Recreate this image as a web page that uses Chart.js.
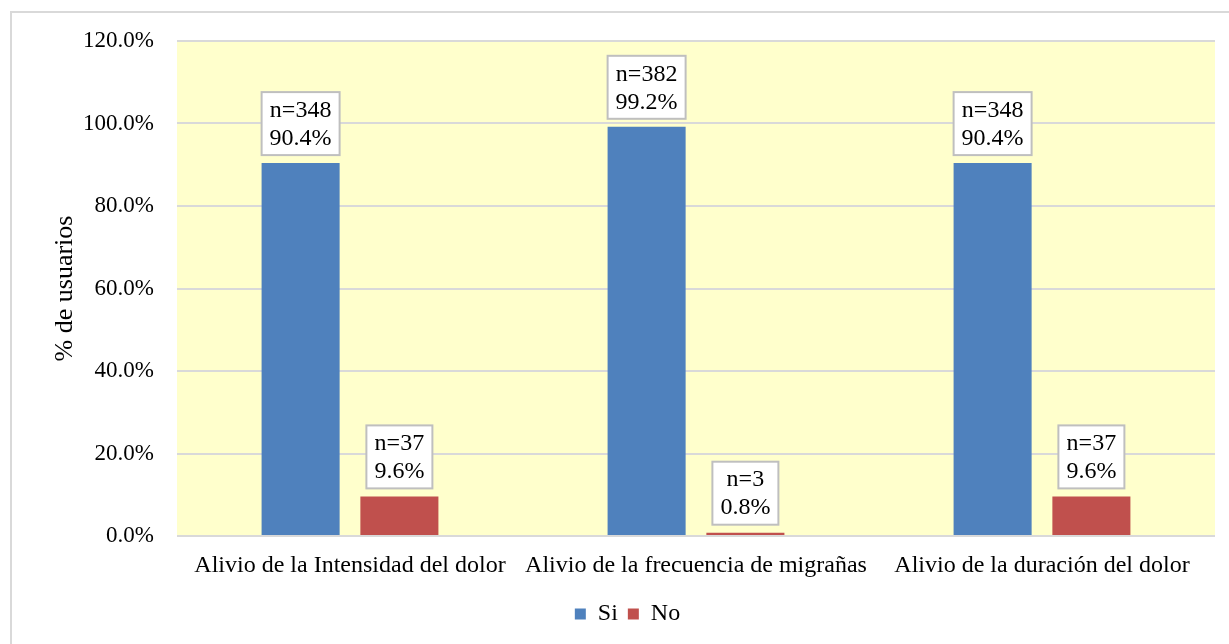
<!DOCTYPE html>
<html lang="es">
<head>
    <meta charset="UTF-8">
    <title>Alivio del dolor - % de usuarios</title>
    <script src="https://cdn.jsdelivr.net/npm/chart.js@4.4.0/dist/chart.umd.min.js"></script>
    <style>
        body {
            margin: 0;
            padding: 0;
            background: #ffffff;
        }
        .chart-wrapper {
            position: relative;
            width: 1229px;
            height: 644px;
        }
    </style>
</head>
<body>
    <div class="chart-wrapper">
        <canvas id="reliefChart"></canvas>
    </div>

    <script>
        // Data
        const categories = [
            'Alivio de la Intensidad del dolor',
            'Alivio de la frecuencia de migrañas',
            'Alivio de la duración del dolor'
        ];
        const siPercent = [90.4, 99.2, 90.4];
        const noPercent = [9.6, 0.8, 9.6];
        const siCount = [348, 382, 348];
        const noCount = [37, 3, 37];
        const yTicks = [0, 20, 40, 60, 80, 100, 120];

        const serif = "'Liberation Serif', 'Times New Roman', serif";

        // Yellow plot background + outer frame
        const plotBackground = {
            id: 'plotBackground',
            beforeDraw(chart) {
                const { ctx, chartArea } = chart;
                ctx.save();
                ctx.fillStyle = '#FFFFCC';
                ctx.fillRect(chartArea.left, chartArea.top,
                    chartArea.right - chartArea.left, chartArea.bottom - chartArea.top);
                ctx.restore();
            },
            afterDraw(chart) {
                const ctx = chart.ctx;
                ctx.save();
                ctx.strokeStyle = '#D9D9D9';
                ctx.lineWidth = 2;
                ctx.strokeRect(11, 12, 1240, 700);
                ctx.restore();
            }
        };

        // Boxed "n=.. / ..%" labels above each bar
        const boxedLabels = {
            id: 'boxedLabels',
            afterDatasetsDraw(chart) {
                const ctx = chart.ctx;
                ctx.save();
                ctx.font = '24px ' + serif;
                ctx.textAlign = 'center';
                ctx.textBaseline = 'middle';
                chart.data.datasets.forEach((ds, di) => {
                    const meta = chart.getDatasetMeta(di);
                    meta.data.forEach((bar, i) => {
                        const line1 = 'n=' + ds.counts[i];
                        const line2 = ds.data[i].toFixed(1) + '%';
                        const w = Math.max(ctx.measureText(line1).width, ctx.measureText(line2).width) + 16;
                        const h = 63;
                        const bottom = bar.y - 8;
                        const x = bar.x - w / 2;
                        const y = bottom - h;
                        ctx.fillStyle = '#ffffff';
                        ctx.fillRect(x, y, w, h);
                        ctx.strokeStyle = '#BFBFBF';
                        ctx.lineWidth = 2;
                        ctx.strokeRect(x, y, w, h);
                        ctx.fillStyle = '#000000';
                        ctx.fillText(line1, bar.x, y + h / 2 - 13);
                        ctx.fillText(line2, bar.x, y + h / 2 + 15);
                    });
                });
                ctx.restore();
            }
        };

        const ctx = document.getElementById('reliefChart').getContext('2d');
        new Chart(ctx, {
            type: 'bar',
            data: {
                labels: categories,
                datasets: [
                    {
                        label: 'Si',
                        data: siPercent,
                        counts: siCount,
                        backgroundColor: '#4F81BD',
                        categoryPercentage: 0.571,
                        barPercentage: 0.79
                    },
                    {
                        label: 'No',
                        data: noPercent,
                        counts: noCount,
                        backgroundColor: '#C0504D',
                        categoryPercentage: 0.571,
                        barPercentage: 0.79
                    }
                ]
            },
            options: {
                responsive: true,
                maintainAspectRatio: false,
                animation: false,
                layout: {
                    padding: { left: 40, top: 41, right: 14, bottom: 8 }
                },
                scales: {
                    x: {
                        grid: { display: false, drawTicks: false },
                        border: { display: false },
                        ticks: {
                            color: '#000000',
                            padding: 15,
                            maxRotation: 0,
                            minRotation: 0,
                            autoSkip: false,
                            font: { family: serif, size: 24 }
                        },
                        afterFit(axis) {
                            axis.height = 56;
                            axis.paddingLeft = 0;
                            axis.paddingRight = 0;
                        }
                    },
                    y: {
                        min: 0,
                        max: 120,
                        afterBuildTicks(axis) {
                            axis.ticks = yTicks.map(v => ({ value: v }));
                        },
                        grid: {
                            color: '#D9D9D9',
                            lineWidth: 2,
                            drawTicks: false
                        },
                        border: { display: false },
                        ticks: {
                            color: '#000000',
                            padding: 23,
                            font: { family: serif, size: 23 },
                            callback: v => v.toFixed(1) + '%'
                        },
                        title: {
                            display: true,
                            text: '% de usuarios',
                            color: '#000000',
                            padding: { top: 10, bottom: 0 },
                            font: { family: serif, size: 26 }
                        },
                        afterFit(axis) { axis.width = 137; }
                    }
                },
                plugins: {
                    legend: {
                        display: true,
                        position: 'bottom',
                        labels: {
                            color: '#000000',
                            boxWidth: 11,
                            boxHeight: 11,
                            padding: 10,
                            font: { family: serif, size: 24 }
                        }
                    },
                    tooltip: { enabled: false }
                }
            },
            plugins: [plotBackground, boxedLabels]
        });
    </script>
</body>
</html>
